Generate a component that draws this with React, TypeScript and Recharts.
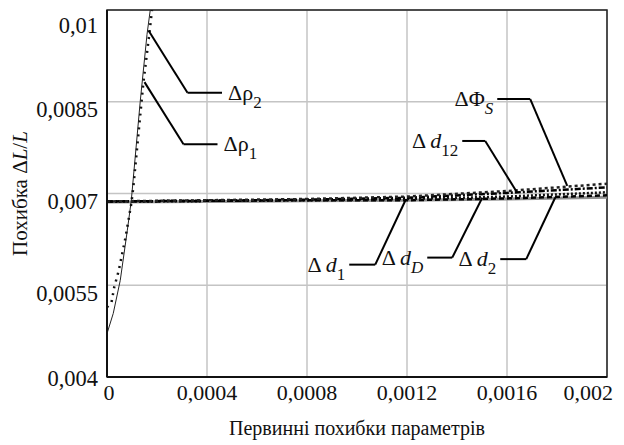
import {
  CartesianGrid,
  Line,
  LineChart,
  ReferenceArea,
  ReferenceDot,
  ReferenceLine,
  XAxis,
  YAxis,
} from "recharts";

const FONT = "Liberation Serif, DejaVu Serif, serif";

const xTicks = [0, 0.0004, 0.0008, 0.0012, 0.0016, 0.002];
const yTicks = [0.004, 0.0055, 0.007, 0.0085, 0.01];

// steep curves (x, y)
const rho1 = [
  [0, 0.00471],
  [0.000025, 0.00504],
  [0.000053, 0.00558],
  [0.000081, 0.00639],
  [0.000097, 0.00688],
  [0.000133, 0.00851],
  [0.00016, 0.0096],
  [0.000173, 0.01],
];
const rho2 = [
  [0, 0.00514],
  [0.000018, 0.00522],
  [0.000029, 0.00547],
  [0.000047, 0.00574],
  [0.000073, 0.00626],
  [0.000097, 0.00683],
  [0.000105, 0.00709],
  [0.000145, 0.00879],
  [0.000169, 0.0096],
  [0.00018, 0.01],
];

// nearly flat curves, sampled at xTicks
const d1 = [0.00687, 0.00688, 0.00689, 0.00689, 0.00692, 0.00697];
const dD = [0.00687, 0.00688, 0.00689, 0.00691, 0.00695, 0.00702];
const d2 = [0.00686, 0.00687, 0.00688, 0.00689, 0.00691, 0.00694];
const d12 = [0.00687, 0.00688, 0.0069, 0.00693, 0.00701, 0.0071];
const phiS = [0.00687, 0.00689, 0.00691, 0.00695, 0.00704, 0.00716];

const toPoints = (pairs: number[][]) => pairs.map(([x, y]) => ({ x, y }));
const onTicks = (values: number[]) => values.map((y, i) => ({ x: xTicks[i], y }));

type Note = {
  main: string;
  italic: string;
  sub: string;
  subItalic: boolean;
  anchor: "start" | "end";
  leader: number[][];
};

// annotation leaders in data coordinates; text sits at the free end of the leader
const notes: Note[] = [
  { main: "Δρ", italic: "", sub: "2", subItalic: false, anchor: "start", leader: [[0.000166, 0.009664], [0.000322, 0.008647], [0.00046, 0.008647]] },
  { main: "Δρ", italic: "", sub: "1", subItalic: false, anchor: "start", leader: [[0.00015, 0.008821], [0.000306, 0.007805], [0.000442, 0.007805]] },
  { main: "Δ", italic: "d", sub: "1", subItalic: false, anchor: "end", leader: [[0.001193, 0.006881], [0.001073, 0.005837], [0.000969, 0.005837]] },
  { main: "Δ", italic: "d", sub: "D", subItalic: true, anchor: "end", leader: [[0.001501, 0.00693], [0.001381, 0.005952], [0.001281, 0.005952]] },
  { main: "Δ", italic: "d", sub: "2", subItalic: false, anchor: "end", leader: [[0.001793, 0.006935], [0.001677, 0.005927], [0.001573, 0.005927]] },
  { main: "Δ", italic: "d", sub: "12", subItalic: false, anchor: "end", leader: [[0.001641, 0.007011], [0.001513, 0.007859], [0.001421, 0.007859]] },
  { main: "ΔΦ", italic: "", sub: "S", subItalic: true, anchor: "end", leader: [[0.001841, 0.007125], [0.001693, 0.008544], [0.001561, 0.008544]] },
];

const fmt = (v: number) => String(v).replace(".", ",");

const XTick = (props: any) => {
  const { x, y, payload, index } = props;
  const last = index === xTicks.length - 1;
  return (
    <text
      x={last ? x + 13 : index === 0 ? x + 2 : x}
      y={y + 23}
      textAnchor={last ? "end" : "middle"}
      style={{ fontFamily: FONT }}
      fontSize={22}
      fill="#111"
    >
      {fmt(payload.value)}
    </text>
  );
};

const YTick = (props: any) => {
  const { x, y, payload } = props;
  const shift = payload.value === 0.004 ? 1 : 8;
  return (
    <text x={x - 9} y={y + shift + 7.5} textAnchor="end" style={{ fontFamily: FONT }} fontSize={22.5} fill="#111">
      {fmt(payload.value)}
    </text>
  );
};

const YTitle = (props: any) => {
  const vb = props.viewBox || { x: 0, y: 0, height: 0 };
  const cx = 12;
  const cy = vb.y + vb.height / 2;
  return (
    <text
      x={cx}
      y={cy}
      transform={`rotate(-90, ${cx}, ${cy})`}
      textAnchor="middle"
      dominantBaseline="central"
      style={{ fontFamily: FONT }}
      fontSize={21}
      fill="#111"
    >
      Похибка Δ<tspan fontStyle="italic">L</tspan>/<tspan fontStyle="italic">L</tspan>
    </text>
  );
};

const XTitle = (props: any) => {
  const vb = props.viewBox || { x: 0, y: 0, width: 0 };
  return (
    <text
      x={vb.x + vb.width / 2}
      y={vb.y + 58}
      textAnchor="middle"
      style={{ fontFamily: FONT }}
      fontSize={20}
      fill="#111"
    >
      Первинні похибки параметрів
    </text>
  );
};

const noteShape = (note: Note) => (props: any) => {
  const { cx, cy } = props;
  const gap = note.anchor === "start" ? 6 : -4;
  return (
    <text
      x={cx + gap}
      y={cy + 7}
      textAnchor={note.anchor}
      style={{ fontFamily: FONT }}
      fontSize={22}
      fill="#111"
    >
      {note.main}
      {note.italic ? <tspan dx={4} fontStyle="italic">{note.italic}</tspan> : null}
      <tspan dy={8} fontSize={17} fontStyle={note.subItalic ? "italic" : "normal"}>
        {note.sub}
      </tspan>
    </text>
  );
};

export default function App() {
  return (
    <LineChart
      width={610}
      height={437}
      margin={{ top: 2, right: 11, bottom: 23, left: 29 }}
      style={{ fontFamily: FONT }}
    >
      <CartesianGrid stroke="#c4c4c4" strokeWidth={1.5} />
      <XAxis
        type="number"
        dataKey="x"
        domain={[0, 0.002]}
        ticks={xTicks}
        allowDataOverflow
        tickLine={false}
        tickSize={0}
        tickMargin={0}
        axisLine={{ stroke: "#111", strokeWidth: 2 }}
        height={45}
        tick={<XTick />}
        label={<XTitle />}
      />
      <YAxis
        type="number"
        dataKey="y"
        domain={[0.004, 0.01]}
        ticks={yTicks}
        allowDataOverflow
        tickLine={false}
        tickSize={0}
        tickMargin={0}
        axisLine={{ stroke: "#111", strokeWidth: 2 }}
        width={70}
        tick={<YTick />}
        label={<YTitle />}
      />
      <ReferenceArea x1={0} x2={0.002} y1={0.004} y2={0.01} fill="none" stroke="#222" strokeWidth={1.5} />

      <Line data={onTicks(d2)} dataKey="y" stroke="#8f8f8f" strokeWidth={3} dot={false} isAnimationActive={false} />
      <Line data={onTicks(d1)} dataKey="y" stroke="#000" strokeWidth={2.5} strokeDasharray="5 3" dot={false} isAnimationActive={false} />
      <Line data={onTicks(dD)} dataKey="y" stroke="#111" strokeWidth={2.5} strokeDasharray="2 2" dot={false} isAnimationActive={false} />
      <Line data={onTicks(d12)} dataKey="y" stroke="#000" strokeWidth={2.5} strokeDasharray="6 2 2 2" dot={false} isAnimationActive={false} />
      <Line data={onTicks(phiS)} dataKey="y" stroke="#222" strokeWidth={2.5} strokeDasharray="3 3" dot={false} isAnimationActive={false} />
      <Line data={toPoints(rho1)} dataKey="y" stroke="#222" strokeWidth={1} dot={false} isAnimationActive={false} />
      <Line data={toPoints(rho2)} dataKey="y" stroke="#111" strokeWidth={2.5} strokeDasharray="2 5" dot={false} isAnimationActive={false} />

      {notes.map((note, i) =>
        note.leader.slice(1).map((p, j) => (
          <ReferenceLine
            key={`l${i}-${j}`}
            segment={[
              { x: note.leader[j][0], y: note.leader[j][1] },
              { x: p[0], y: p[1] },
            ]}
            stroke="#000"
            strokeWidth={2}
          />
        ))
      )}
      {notes.map((note, i) => {
        const end = note.leader[note.leader.length - 1];
        return (
          <ReferenceDot key={`t${i}`} x={end[0]} y={end[1]} r={0} shape={noteShape(note)} />
        );
      })}
    </LineChart>
  );
}
